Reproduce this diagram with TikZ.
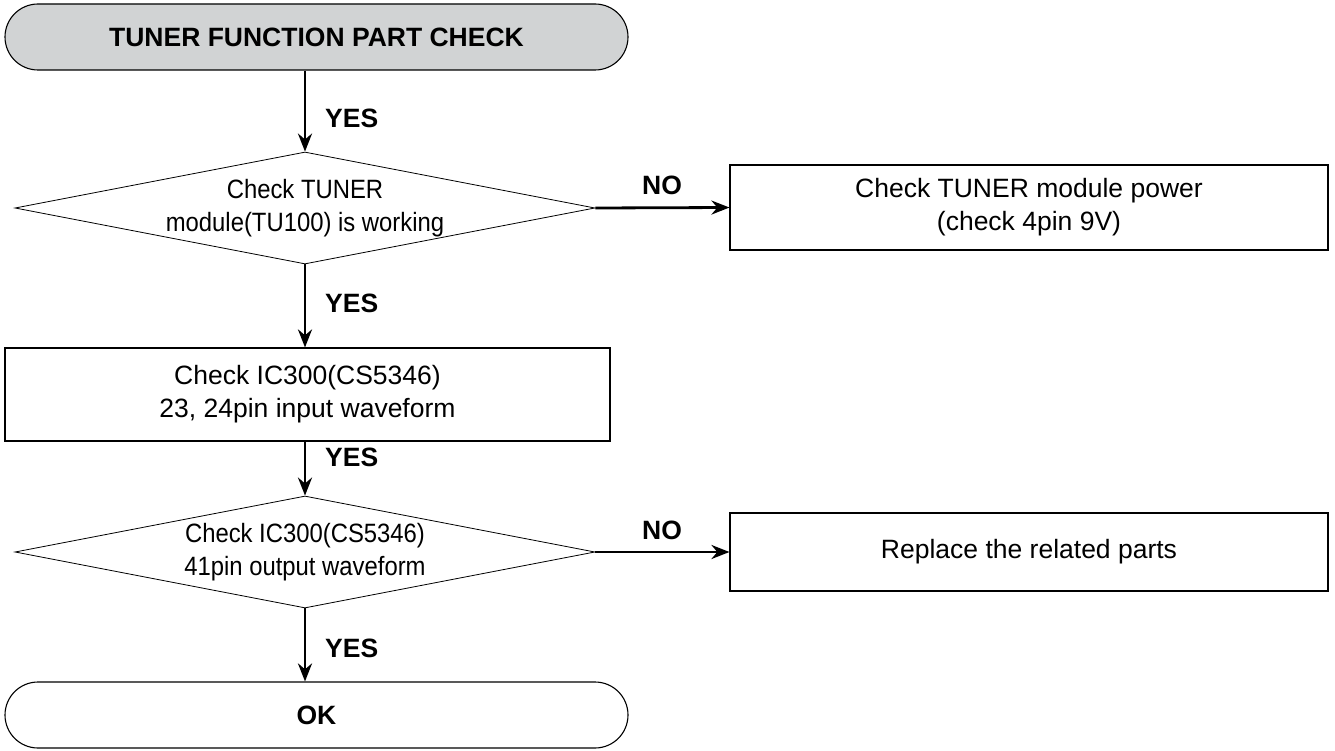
\documentclass[tikz,border=0pt]{standalone}
\usepackage{fontspec}
\usepackage{graphicx}
\setmainfont{Liberation Sans}
\usetikzlibrary{shapes.geometric,shapes.misc,arrows.meta}
\definecolor{termgray}{RGB}{209,211,212}
% two centred lines, slightly narrowed, taking no width of their own
\newcommand\narrowpair[3][0pt]{\makebox[0pt]{\raisebox{#1}{\scalebox{0.9}[1]{\begin{tabular}{@{}c@{}}#2\\#3\end{tabular}}}}}
\begin{document}
\begin{tikzpicture}[x=1pt,y=-1pt,
  every node/.style={font=\fontsize{26.5}{33}\selectfont, align=center},
  terminal/.style={rounded rectangle, draw, line width=1.1pt, minimum width=623pt, minimum height=66pt, inner sep=0pt},
  decision/.style={diamond, draw, line width=0.8pt, minimum width=580pt, minimum height=112pt, aspect=1, inner sep=0pt},
  process/.style={rectangle, draw, line width=1.1pt, inner sep=0pt},
  flow/.style={line width=2.8pt, -{Stealth[length=18pt, width=14pt]}},
  answer/.style={font=\fontsize{26.5}{30}\bfseries\selectfont, inner sep=0pt}
]
\useasboundingbox (0,0) rectangle (1335,751);

% start and end terminals
\node[terminal, fill=termgray] (start) at (316.5,37) {\bfseries TUNER FUNCTION PART CHECK};
\node[terminal] (ok) at (316.5,715) {\bfseries OK};

% decisions
\node[decision] (d1) at (305,208) {\narrowpair[4pt]{Check TUNER}{module(TU100) is working}};
\node[decision] (d2) at (305,552) {\narrowpair[1pt]{Check IC300(CS5346)}{41pin output waveform}};

% process boxes
\node[process, minimum width=605pt, minimum height=93pt] (p1) at (307.5,394.5) {Check IC300(CS5346)\\23, 24pin input waveform};
\node[process, minimum width=598pt, minimum height=85pt] (r1) at (1029,207.5) {Check TUNER module power\\(check 4pin 9V)};
\node[process, minimum width=598pt, minimum height=78pt] (r2) at (1029,552) {Replace the related parts};

% connectors
\draw[flow] (start.south -| d1.north) -- (d1.north);
\draw[flow] (d1.south) -- (d1.south |- p1.north);
\draw[flow] (p1.south -| d2.north) -- (d2.north);
\draw[flow] (d2.south) -- (d2.south |- ok.north);
\draw[flow] (d1.east) -- (r1.west);
\draw[flow] (d2.east) -- (r2.west);

% branch labels
\node[answer, anchor=west] (y1) at (325,118) {YES};
\node[answer, anchor=west] (y2) at (325,303) {YES};
\node[answer, anchor=west] (y3) at (325,457) {YES};
\node[answer, anchor=west] (y4) at (325,648) {YES};
\node[answer] (n1) at (662,185) {NO};
\node[answer] (n2) at (662,530) {NO};
\end{tikzpicture}
\end{document}
